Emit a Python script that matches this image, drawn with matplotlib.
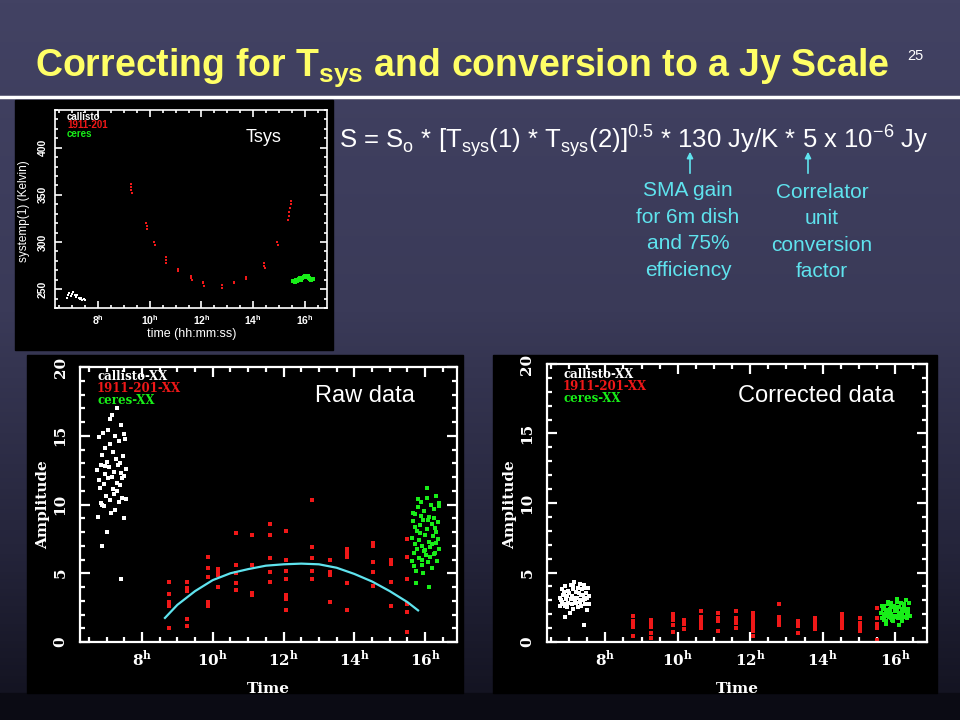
import matplotlib
matplotlib.use("Agg")
import matplotlib.pyplot as plt
from matplotlib.ticker import MultipleLocator
import numpy as np

plt.rcParams['font.family'] = ['Liberation Sans', 'DejaVu Sans']
plt.rcParams['mathtext.fontset'] = 'custom'
plt.rcParams['mathtext.rm'] = 'Liberation Sans'

# ---------------------------------------------------------------- data

hour_ticks = [8, 10, 12, 14, 16]
hour_labels = [r'%d$^\mathregular{h}$' % h for h in hour_ticks]

# Tsys plot (Kelvin vs hour)
tsys_white_t = [6.80, 6.85, 6.90, 6.95, 7.00, 7.05, 7.10, 7.15, 7.20, 7.25, 7.30, 7.35, 7.40, 7.45, 7.50]
tsys_white_k = [241, 244, 246, 243, 245, 247, 244, 242, 244, 241, 240, 241, 239, 240, 239]
tsys_red_t = [9.27, 9.28, 9.29, 9.30, 9.87, 9.88, 9.89, 10.18, 10.19, 10.62, 10.63, 10.64,
              11.10, 11.11, 11.60, 11.61, 11.62, 12.06, 12.07, 12.08, 12.78, 12.79, 13.26, 13.27,
              13.72, 13.73, 14.42, 14.43, 14.44, 14.93, 14.94, 15.36, 15.38, 15.40, 15.42, 15.44, 15.46]
tsys_red_k = [362, 358, 355, 352, 320, 317, 314, 300, 297, 284, 281, 278,
              271, 269, 264, 262, 260, 258, 256, 253, 254, 251, 258, 256,
              263, 261, 278, 275, 272, 300, 297, 323, 328, 332, 336, 340, 344]
tsys_green_t = [15.55, 15.60, 15.65, 15.70, 15.75, 15.80, 15.85, 15.90, 15.95, 16.00, 16.05, 16.10, 16.15, 16.20, 16.25, 16.30]
tsys_green_k = [259, 258, 260, 259, 261, 262, 260, 262, 263, 264, 263, 264, 262, 261, 260, 261]

# callisto (white) times and amplitudes
white_t = [6.74, 6.76, 6.78, 6.80, 6.81, 6.83, 6.85, 6.86, 6.88, 6.90,
           6.92, 6.93, 6.95, 6.97, 6.98, 7.00, 7.02, 7.04, 7.05, 7.07,
           7.09, 7.10, 7.12, 7.14, 7.15, 7.17, 7.19, 7.20, 7.22, 7.24,
           7.25, 7.27, 7.29, 7.30, 7.32, 7.34, 7.35, 7.37, 7.39, 7.40,
           7.42, 7.44, 7.45, 7.47, 7.49, 7.50, 7.52, 7.54, 7.55, 7.40,
           7.10, 6.95, 7.30, 7.48, 6.88]
white_raw = [12.5, 9.1, 11.8, 14.9, 11.2, 12.9, 10.1, 13.6, 7.0, 15.2,
             11.5, 9.9, 12.2, 14.1, 10.6, 13.1, 8.0, 11.9, 15.4, 12.7,
             10.3, 14.4, 9.4, 16.5, 12.0, 11.1, 13.8, 10.8, 12.4, 15.0,
             9.6, 13.3, 11.6, 17.0, 12.9, 10.2, 14.6, 11.4, 13.0, 12.3,
             15.8, 10.5, 11.9, 13.5, 9.0, 12.1, 14.8, 10.4, 12.6, 4.6,
             16.2, 12.8, 11.0, 15.1, 10.0]
white_cor = [3.2, 2.6, 3.0, 3.8, 2.9, 3.4, 2.7, 3.6, 1.8, 4.0,
             3.1, 2.5, 3.3, 3.7, 2.8, 3.5, 2.1, 3.1, 4.1, 3.3,
             2.7, 3.8, 2.4, 4.3, 3.2, 2.9, 3.6, 2.8, 3.2, 3.9,
             2.5, 3.5, 3.0, 4.2, 3.4, 2.6, 3.8, 3.0, 3.4, 3.2,
             4.1, 2.7, 3.1, 3.5, 2.3, 3.2, 3.9, 2.7, 3.3, 1.2,
             4.0, 3.3, 2.9, 3.9, 2.6]

# ceres (green)
green_t = [15.62, 15.64, 15.66, 15.68, 15.70, 15.72, 15.74, 15.76, 15.78, 15.80,
           15.82, 15.84, 15.86, 15.88, 15.90, 15.92, 15.94, 15.96, 15.98, 16.00,
           16.02, 16.04, 16.06, 16.08, 16.10, 16.12, 16.14, 16.16, 16.18, 16.20,
           16.22, 16.24, 16.26, 16.28, 16.30, 16.32, 16.34, 16.36, 16.38, 16.40,
           15.65, 15.75, 15.85, 15.95, 16.05, 16.15, 16.25, 16.35, 15.70, 15.90,
           16.10, 16.30, 15.80, 16.00, 16.20, 15.68, 15.88, 16.08, 16.28, 16.38]
green_raw = [7.6, 5.9, 8.8, 6.5, 9.3, 7.1, 5.2, 8.1, 6.8, 9.8,
             7.4, 6.1, 8.5, 10.2, 7.0, 5.6, 8.9, 6.6, 9.5, 7.8,
             6.3, 10.5, 8.2, 5.8, 9.1, 7.3, 6.9, 10.0, 8.6, 5.4,
             7.7, 9.7, 6.4, 8.3, 10.6, 7.2, 5.9, 8.7, 9.9, 6.8,
             9.4, 4.3, 7.9, 5.0, 11.2, 6.2, 9.0, 7.5, 8.4, 6.0,
             4.0, 8.0, 10.4, 6.7, 7.1, 5.5, 9.2, 8.9, 6.5, 10.1]
green_cor = [2.1, 1.7, 2.4, 1.9, 2.6, 2.0, 1.5, 2.3, 1.9, 2.7,
             2.1, 1.8, 2.4, 2.8, 2.0, 1.6, 2.5, 1.9, 2.6, 2.2,
             1.8, 2.9, 2.3, 1.7, 2.5, 2.1, 2.0, 2.8, 2.4, 1.5,
             2.2, 2.7, 1.8, 2.3, 3.0, 2.0, 1.7, 2.4, 2.8, 1.9,
             2.6, 1.3, 2.2, 1.5, 3.1, 1.8, 2.5, 2.1, 2.4, 1.7,
             1.2, 2.3, 2.9, 1.9, 2.0, 1.6, 2.6, 2.5, 1.8, 2.8]

# 1911-201 (red), one scan per entry
red_times = [8.76, 9.26, 9.86, 10.16, 10.65, 11.12, 11.62, 12.07, 12.80, 13.31, 13.79, 14.54, 15.03, 15.50]
red_raw = [[4.4, 3.5, 2.9, 2.6, 1.0],
           [4.4, 3.9, 3.7, 1.7, 1.2],
           [6.2, 5.4, 4.7, 2.9, 2.6],
           [5.3, 5.1, 4.9, 4.0],
           [7.9, 5.6, 5.0, 4.3, 3.8],
           [7.8, 5.6, 3.6, 3.4],
           [8.6, 7.8, 6.1, 5.1, 4.4],
           [8.1, 6.0, 5.2, 4.6, 3.4, 3.1, 2.3],
           [10.3, 6.9, 6.1, 5.2, 4.6],
           [6.0, 5.1, 4.9, 2.9],
           [6.8, 6.5, 6.2, 4.3, 2.3],
           [7.2, 7.0, 5.8, 5.1, 4.1],
           [6.0, 5.7, 4.4, 2.6],
           [7.5, 6.2, 4.6, 2.8, 2.2, 0.75]]
red_cor = [[1.85, 1.5, 1.3, 1.1, 0.4],
           [1.6, 1.35, 1.1, 0.65, 0.3],
           [2.0, 1.8, 1.6, 1.25, 0.75],
           [1.6, 1.45, 1.3, 0.9],
           [2.2, 1.8, 1.5, 1.3, 1.0],
           [2.1, 1.75, 1.5, 0.8],
           [2.2, 1.7, 1.55, 1.4, 1.0],
           [2.1, 1.8, 1.5, 1.3, 1.1, 0.8, 0.4],
           [2.7, 1.8, 1.6, 1.4, 1.25],
           [1.5, 1.3, 1.15, 0.65],
           [1.7, 1.55, 1.4, 1.1, 0.9],
           [2.0, 1.75, 1.5, 1.2, 1.0],
           [1.7, 1.4, 1.1, 0.8],
           [2.45, 1.7, 1.3, 1.0, 0.15]]

# gain-elevation curve drawn over the raw data
curve_t = [8.65, 9.0, 9.5, 10.0, 10.5, 11.0, 11.5, 12.0, 12.5, 13.0, 13.5, 14.0, 14.5, 15.0, 15.5, 15.8]
curve_amp = [1.75, 2.7, 3.7, 4.5, 5.0, 5.3, 5.55, 5.65, 5.7, 5.65, 5.4, 4.95, 4.4, 3.7, 2.9, 2.3]

RED = '#f01818'
GREEN = '#18ee18'
CYAN = '#5fe3ee'
YELLOW = '#ffff66'
SERIF = ['DejaVu Serif']

W, H = 960, 720
fig = plt.figure(figsize=(9.6, 7.2), dpi=100)


def fx(px):
    return px / W


def fy(py):
    return 1 - py / H


# ---------------------------------------------------------------- slide background
bg = fig.add_axes([0, 0, 1, 1], zorder=-1)
bg.set_xlim(0, W)
bg.set_ylim(H, 0)
bg.axis('off')
rows = np.linspace(0, 1, 200)
stops = [0, 0.45, 0.8, 1.0]
cols = np.array([[0x42, 0x42, 0x63], [0x3a, 0x3a, 0x58], [0x24, 0x24, 0x3a], [0x14, 0x14, 0x22]]) / 255
grad = np.stack([np.interp(rows, stops, cols[:, i]) for i in range(3)], axis=-1)[:, None, :]
bg.imshow(grad, extent=[0, W, 693, 0], aspect='auto', zorder=0)
bg.add_patch(plt.Rectangle((0, 693), W, 27, color='#0b0b14', zorder=1))
bg.plot([0, W], [97, 97], color='white', lw=2.5, zorder=2)
for (x0, y0, x1, y1) in [(15, 100, 333, 350), (27, 355, 463, 693), (493, 355, 937, 693)]:
    bg.add_patch(plt.Rectangle((x0, y0), x1 - x0, y1 - y0, color='black', zorder=2))

# arrows under the formula
for xa in [690, 808]:
    bg.annotate('', xy=(xa, 149), xytext=(xa, 176),
                arrowprops=dict(arrowstyle='-|>', color=CYAN, lw=1.2, mutation_scale=9))


# ---------------------------------------------------------------- plot panels
def panel(frame, xlim, ylim, ymaj, ymin, lsize, lw, tlen):
    l, t, r, b = frame
    ax = fig.add_axes([fx(l), fy(b), (r - l) / W, (b - t) / H])
    ax.set_facecolor('black')
    ax.set_xlim(*xlim)
    ax.set_ylim(*ylim)
    for s in ax.spines.values():
        s.set_color('white')
        s.set_linewidth(lw)
    ax.xaxis.set_minor_locator(MultipleLocator(0.5))
    ax.yaxis.set_major_locator(MultipleLocator(ymaj))
    ax.yaxis.set_minor_locator(MultipleLocator(ymin))
    ax.set_xticks(hour_ticks)
    ax.set_xticklabels(hour_labels)
    ax.tick_params(which='both', direction='in', top=True, right=True, colors='white', width=lw)
    ax.tick_params(which='major', length=tlen)
    ax.tick_params(which='minor', length=tlen / 2)
    ax.tick_params(axis='y', labelrotation=90)
    ax.tick_params(labelsize=lsize)
    for lab in ax.get_xticklabels() + ax.get_yticklabels():
        lab.set_fontfamily(SERIF)
        lab.set_fontweight('bold')
        lab.set_va('center')
    return ax


def flat(times, groups):
    xs, ys = [], []
    for t, g in zip(times, groups):
        xs += [t] * len(g)
        ys += g
    return xs, ys


# Tsys panel
ax1 = panel((55, 110, 327, 308), (6.34, 16.85), (230, 440), 50, 10, 7.5, 1.2, 5)
for lab in ax1.get_xticklabels() + ax1.get_yticklabels():
    lab.set_fontfamily(['Liberation Sans'])
ax1.tick_params(axis='x', pad=9)
ax1.tick_params(axis='y', pad=5)
ax1.plot(tsys_white_t, tsys_white_k, 's', color='white', ms=2.0, mew=0)
ax1.plot(tsys_red_t, tsys_red_k, 's', color=RED, ms=2.0, mew=0)
ax1.plot(tsys_green_t, tsys_green_k, 's', color=GREEN, ms=2.2, mew=0)
fig.text(fx(192), fy(334), 'time (hh:mm:ss)', color='white', fontsize=9, ha='center', va='center')
fig.text(fx(24), fy(211), 'systemp(1) (Kelvin)', color='white', fontsize=8.5, ha='center', va='center', rotation=90)
for i, (name, c) in enumerate([('callisto', 'white'), ('1911-201', RED), ('ceres', GREEN)]):
    fig.text(fx(67), fy(117 + 8.5 * i), name, color=c, fontsize=7, fontweight='bold', ha='left', va='center')
fig.text(fx(264), fy(137), 'Tsys', color='white', fontsize=13, ha='center', va='center')

# raw and corrected amplitude panels
for frame, xl, w_amp, g_amp, r_amp, title, tx, lx, leg_y, lab_x, time_x in [
        ((80, 367, 457, 642), (6.25, 16.9), white_raw, green_raw, red_raw, 'Raw data', 365, 97, 377, 43, 268),
        ((547, 364, 927, 642), (6.39, 16.88), white_cor, green_cor, red_cor, 'Corrected data', 816, 563, 375, 510, 737)]:
    ax = panel(frame, xl, (0, 20), 5, 1, 11, 1.6, 7)
    ax.tick_params(axis='x', pad=12)
    ax.tick_params(axis='y', pad=9)
    rx, ry = flat(red_times, r_amp)
    ax.plot(rx, ry, 's', color=RED, ms=2.2, mew=0)
    ax.plot(white_t, w_amp, 's', color='white', ms=2.2, mew=0)
    ax.plot(green_t, g_amp, 's', color=GREEN, ms=2.4, mew=0)
    if title == 'Raw data':
        ax.plot(curve_t, curve_amp, color=CYAN, lw=1.6)
    for i, (name, c) in enumerate([('callisto-XX', 'white'), ('1911-201-XX', RED), ('ceres-XX', GREEN)]):
        fig.text(fx(lx), fy(leg_y + 12 * i), name, color=c, fontsize=8.5, fontweight='bold',
                 family=SERIF, ha='left', va='center')
    fig.text(fx(tx), fy(396), title, color='white', fontsize=17, ha='center', va='center')
    fig.text(fx(time_x), fy(689), 'Time', color='white', fontsize=11, fontweight='bold',
             family=SERIF, ha='center', va='center')
    fig.text(fx(lab_x), fy(505), 'Amplitude', color='white', fontsize=11, fontweight='bold',
             family=SERIF, ha='center', va='center', rotation=90)

# ---------------------------------------------------------------- slide text
fig.text(fx(462), fy(76), r'Correcting for T$_\mathregular{sys}$ and conversion to a Jy Scale',
         color=YELLOW, fontsize=27, fontweight='bold', ha='center', va='baseline')
fig.text(fx(915), fy(56), '25', color='white', fontsize=10.5, ha='center', va='center')
fig.text(fx(634), fy(148),
         r'S = S$_\mathregular{o}$ * [T$_\mathregular{sys}$(1) * T$_\mathregular{sys}$(2)]$^\mathregular{0.5}$'
         r' * 130 Jy/K * 5 x 10$^\mathregular{-6}$ Jy',
         color='white', fontsize=18.5, ha='center', va='baseline')
fig.text(fx(688), fy(230.5), 'SMA gain\nfor 6m dish\nand 75%\nefficiency', color=CYAN, fontsize=15,
         ha='center', va='center', linespacing=1.5)
fig.text(fx(822), fy(232), 'Correlator\nunit\nconversion\nfactor', color=CYAN, fontsize=15,
         ha='center', va='center', linespacing=1.5)

fig.savefig('out.png', dpi=100, facecolor='black')
